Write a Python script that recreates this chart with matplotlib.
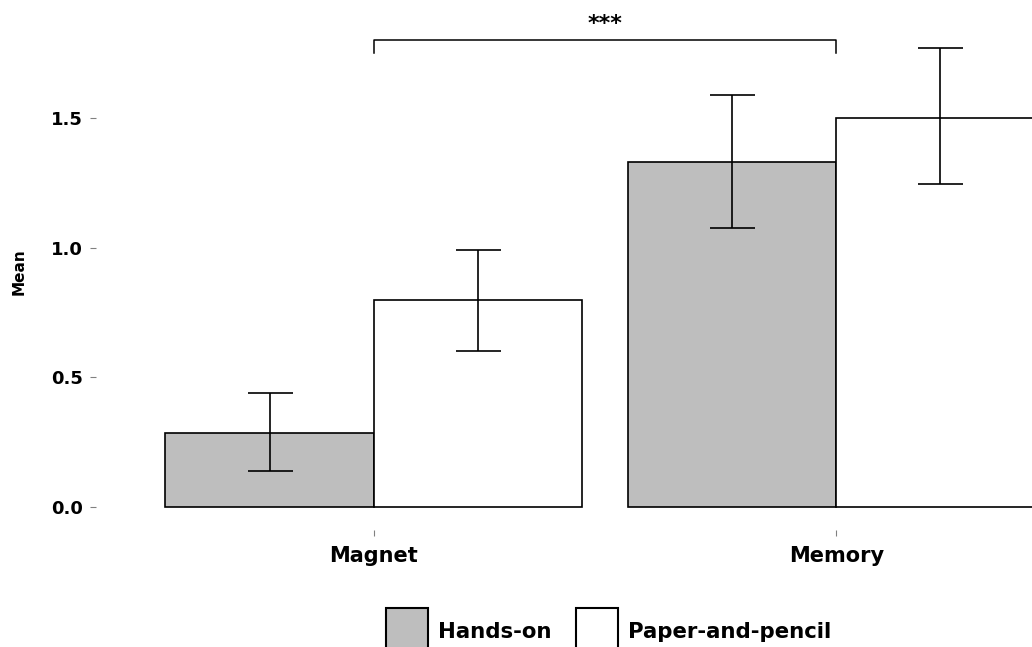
import matplotlib
matplotlib.use("Agg")
import matplotlib.pyplot as plt
from matplotlib.patches import Rectangle
import numpy as np

categories = ["Magnet", "Memory"]
groups = ["Hands-on", "Paper-and-pencil"]
means = {"Hands-on": [0.285, 1.330], "Paper-and-pencil": [0.800, 1.500]}
lower = {"Hands-on": [0.139, 1.076], "Paper-and-pencil": [0.602, 1.246]}
upper = {"Hands-on": [0.440, 1.589], "Paper-and-pencil": [0.991, 1.770]}
colors = {"Hands-on": "#BEBEBE", "Paper-and-pencil": "#FFFFFF"}
y_ticks = [0.0, 0.5, 1.0, 1.5]
sig_label = "***"
sig_y = 1.80

W, H = 1032, 647
fig = plt.figure(figsize=(W / 100, H / 100), dpi=100)
plt.rcParams['font.family'] = ['DejaVu Sans']

# pixel mapping
px_left, px_right = 96, 1114
y0_px, y15_px = 507, 118
unit = (y0_px - y15_px) / 1.5
ylo = -(530 - y0_px) / unit
yhi = y0_px / unit
ax = fig.add_axes([px_left / W, (H - 530) / H, (px_right - px_left) / W, 530 / H])
ax.set_xlim(0.4, 2.6)
ax.set_ylim(ylo, yhi)

x = np.arange(1, len(categories) + 1)
bw = 0.45
lw = 1.2
for i, g in enumerate(groups):
    xs = x + (i - 0.5) * bw
    ax.bar(xs, means[g], width=bw, color=colors[g], edgecolor="black", linewidth=lw, zorder=2)
    m = np.array(means[g])
    err = [m - np.array(lower[g]), np.array(upper[g]) - m]
    ax.errorbar(xs, m, yerr=err, fmt="none", ecolor="black", elinewidth=lw,
                capsize=16.2, capthick=lw, zorder=3)

# significance bracket
tip = 0.05
ax.plot([x[0], x[0], x[1], x[1]], [sig_y - tip, sig_y, sig_y, sig_y - tip],
        color="black", linewidth=1.1, clip_on=False)
ax.text((x[0] + x[1]) / 2, sig_y + 0.025, sig_label, ha="center", va="bottom",
        fontsize=16, fontweight="bold", clip_on=False)

for s in ax.spines.values():
    s.set_visible(False)
ax.set_xticks(x)
ax.set_xticklabels(categories, fontsize=15, fontweight="bold")
ax.set_yticks(y_ticks)
ax.set_yticklabels([f"{v:.1f}" for v in y_ticks], fontsize=13, fontweight="bold")
ax.tick_params(axis="both", color="#808080", length=4.5, width=0.8, pad=5)
ax.tick_params(axis="x", pad=7)
ax.set_ylabel("Mean", fontsize=11, fontweight="bold")
ax.yaxis.set_label_coords((27 - px_left) / (px_right - px_left), (530 - 272) / 530)

# legend (bottom, manual)
keys = [(386, "Hands-on"), (576, "Paper-and-pencil")]
for kx, g in keys:
    fig.patches.append(Rectangle((kx / W, (H - 652) / H), 42 / W, 44 / H,
                                 transform=fig.transFigure, facecolor=colors[g],
                                 edgecolor="black", linewidth=1.5))
    fig.text((kx + 52) / W, (H - 632) / H, g, ha="left", va="center",
             fontsize=15.3, fontweight="bold")

fig.savefig("out.png", dpi=100)
